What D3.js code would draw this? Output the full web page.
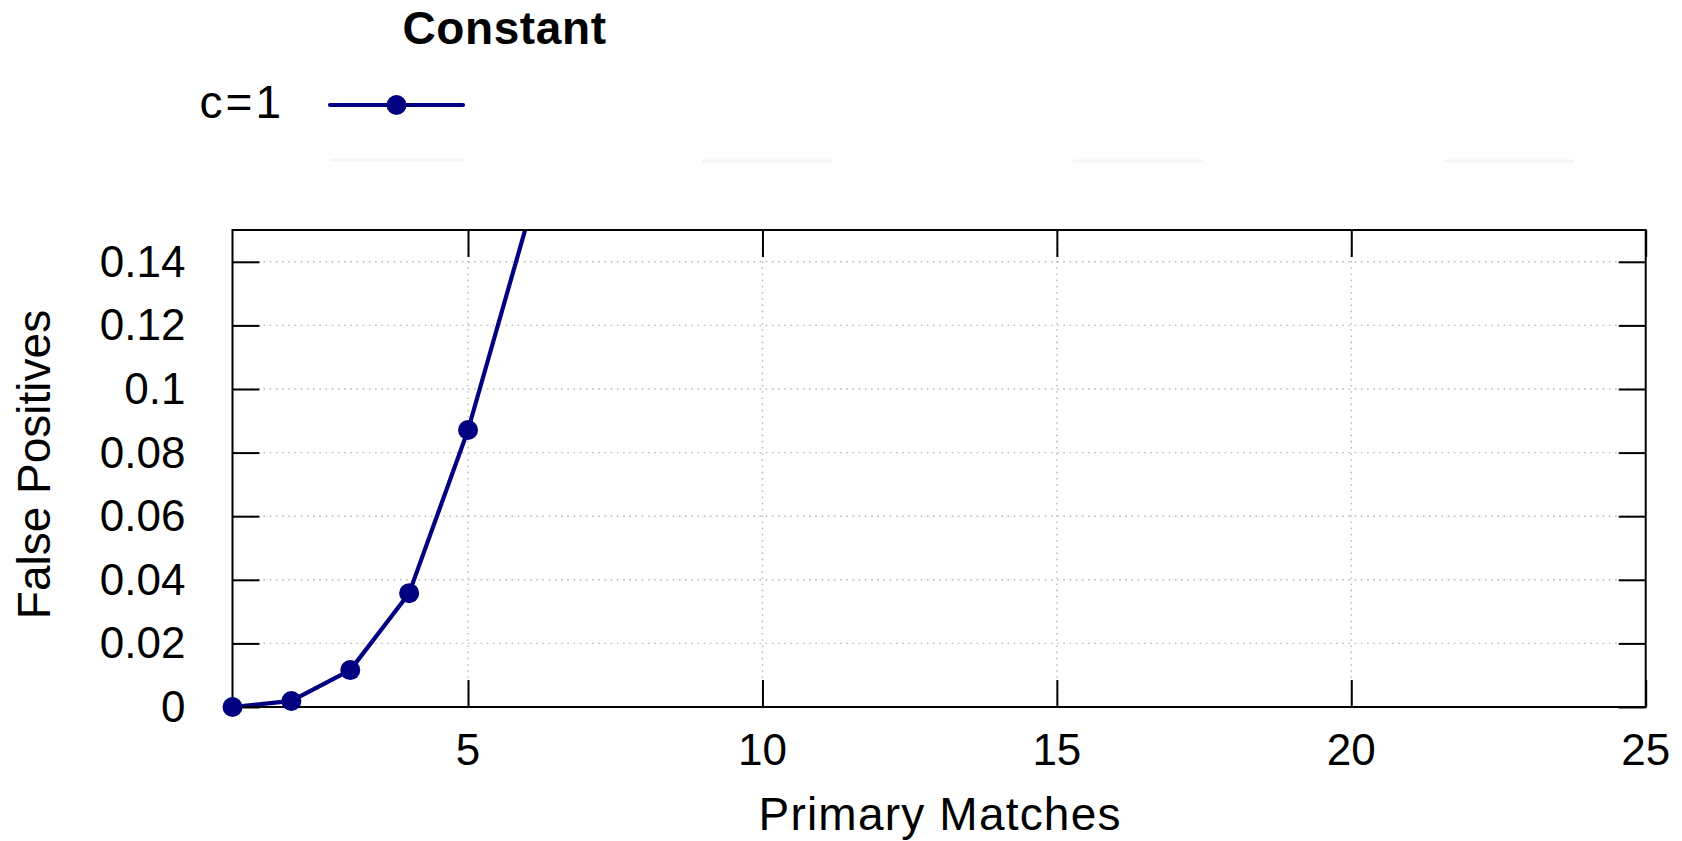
<!DOCTYPE html>
<html>
<head>
<meta charset="utf-8">
<script src="https://cdn.jsdelivr.net/npm/d3@7"></script>
<style>
  html, body { margin: 0; padding: 0; background: #fff; }
  svg { display: block; }
  text { font-family: "Liberation Sans", Arial, sans-serif; fill: #000; }
</style>
</head>
<body>
<svg id="chart" width="1682" height="841"></svg>
<script>
// ---- data ----
const xValues = [1, 2, 3, 4, 5, 6];
const fpValues = [0, 0.0019, 0.0116, 0.0358, 0.0871, 0.152];
const seriesName = "c=1";
const legendTitle = "Constant";
const xTicks = [5, 10, 15, 20, 25];
const yTicks = [0, 0.02, 0.04, 0.06, 0.08, 0.1, 0.12, 0.14];
const yTickLabels = ["0", "0.02", "0.04", "0.06", "0.08", "0.1", "0.12", "0.14"];
const xDomain = [1, 25];
const yDomain = [0, 0.15];
const xLabel = "Primary Matches";
const yLabel = "False Positives";
const hiddenLegendSlots = [1, 2, 3, 4]; // faint placeholder legend entries

// ---- layout ----
const L = 232.5, R = 1645.7, T = 230, B = 707;
const color = "#000080";
const fontSize = 44;
const tickLen = 27;

const svg = d3.select("#chart");
const x = d3.scaleLinear().domain(xDomain).range([L, R]);
const y = d3.scaleLinear().domain(yDomain).range([B, T]);

// grid
const grid = svg.append("g").attr("stroke", "#b8b8b8").attr("stroke-width", 1.4)
  .attr("stroke-dasharray", "1.6,4.6").attr("fill", "none");
grid.selectAll("line.gy").data(yTicks.filter(d => d > 0)).enter().append("line")
  .attr("x1", L).attr("x2", R).attr("y1", d => y(d)).attr("y2", d => y(d));
grid.selectAll("line.gx").data(xTicks.filter(d => d < xDomain[1])).enter().append("line")
  .attr("y1", T).attr("y2", B).attr("x1", d => x(d)).attr("x2", d => x(d));

// ticks via d3 axes (inward on all sides)
function styleAxis(g) {
  g.select(".domain").remove();
  g.selectAll(".tick line").attr("stroke", "#000").attr("stroke-width", 2);
  g.selectAll(".tick text").remove();
}
svg.append("g").attr("transform", `translate(0,${B})`)
  .call(d3.axisBottom(x).tickValues(xTicks).tickSize(-tickLen)).call(styleAxis);
svg.append("g").attr("transform", `translate(0,${T})`)
  .call(d3.axisTop(x).tickValues(xTicks).tickSize(-tickLen)).call(styleAxis);
svg.append("g").attr("transform", `translate(${L},0)`)
  .call(d3.axisLeft(y).tickValues(yTicks).tickSize(-tickLen)).call(styleAxis);
svg.append("g").attr("transform", `translate(${R},0)`)
  .call(d3.axisRight(y).tickValues(yTicks).tickSize(-tickLen)).call(styleAxis);

// tick labels
svg.append("g").selectAll("text").data(xTicks).enter().append("text")
  .attr("x", d => x(d)).attr("y", B + 58).attr("text-anchor", "middle")
  .attr("font-size", fontSize).text(d => d);
svg.append("g").selectAll("text").data(yTicks).enter().append("text")
  .attr("x", L - 47).attr("y", d => y(d) + 15).attr("text-anchor", "end")
  .attr("font-size", fontSize).text((d, i) => yTickLabels[i]);

// axis labels
svg.append("text").attr("x", (L + R) / 2 + 1).attr("y", 830).attr("text-anchor", "middle")
  .attr("font-size", 46).attr("letter-spacing", 1.2).text(xLabel);
svg.append("text").attr("transform", `translate(50,${(T + B) / 2 - 4}) rotate(-90)`)
  .attr("text-anchor", "middle").attr("font-size", 46).text(yLabel);

// clip
svg.append("clipPath").attr("id", "plotClip").append("rect")
  .attr("x", L).attr("y", T).attr("width", R - L).attr("height", B - T);

// data
const data = xValues.map((v, i) => ({ x: v, y: fpValues[i] }));
const line = d3.line().x(d => x(d.x)).y(d => y(d.y));
const plot = svg.append("g").attr("clip-path", "url(#plotClip)");
plot.append("path").datum(data).attr("d", line).attr("fill", "none")
  .attr("stroke", color).attr("stroke-width", 4.2).attr("stroke-linejoin", "round");

// box
svg.append("rect").attr("x", L).attr("y", T).attr("width", R - L).attr("height", B - T)
  .attr("fill", "none").attr("stroke", "#000").attr("stroke-width", 2);

// markers for points inside the y range
svg.append("g").selectAll("circle").data(data.filter(d => d.y <= yDomain[1])).enter()
  .append("circle").attr("cx", d => x(d.x)).attr("cy", d => y(d.y)).attr("r", 10)
  .attr("fill", color);

// legend
svg.append("text").attr("x", 504.5).attr("y", 44).attr("text-anchor", "middle")
  .attr("font-size", 46).attr("font-weight", "bold").attr("letter-spacing", 0.6).text(legendTitle);
svg.append("text").attr("x", 284).attr("y", 118).attr("text-anchor", "end")
  .attr("font-size", 46).attr("letter-spacing", 3).text(seriesName);
svg.append("line").attr("x1", 330).attr("x2", 463).attr("y1", 105).attr("y2", 105)
  .attr("stroke", color).attr("stroke-width", 4.2).attr("stroke-linecap", "round");
svg.append("circle").attr("cx", 396.5).attr("cy", 105).attr("r", 10).attr("fill", color);

// faint placeholder legend entries
svg.append("g").selectAll("line").data(hiddenLegendSlots).enter().append("line")
  .attr("x1", d => 330 + (d === 1 ? 0 : (d - 1) * 371 + 1))
  .attr("x2", d => 463 + (d === 1 ? 0 : (d - 1) * 371 - 2))
  .attr("y1", (d) => d === 1 ? 160 : 161).attr("y2", (d) => d === 1 ? 160 : 161)
  .attr("stroke", "#f5f5f5").attr("stroke-width", 3);
</script>
</body>
</html>
